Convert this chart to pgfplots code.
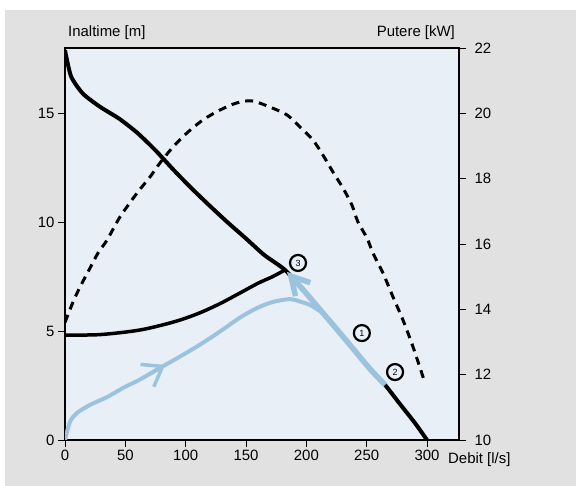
\documentclass[border=0pt]{standalone}
\usepackage{fontspec}
\setmainfont{Liberation Sans}
\usepackage{pgfplots}
\pgfplotsset{compat=1.18}
\usetikzlibrary{arrows.meta}
\definecolor{bggray}{RGB}{225,225,225}
\definecolor{plotbg}{RGB}{233,239,247}
\definecolor{flowblue}{RGB}{155,195,222}

\pgfplotsset{
  base/.style={
    at={(65bp,46bp)}, anchor=south west,
    scale only axis, width=394bp, height=392bp,
    xmin=0, xmax=326.5,
    tick align=outside,
    major tick length=7bp,
    every tick/.style={black, line width=0.9bp},
    axis line style={line width=2.5bp},
    clip mode=individual,
    /pgf/number format/assume math mode=true,
    tick label style={font=\fontsize{15}{18}\selectfont},
  }
}

\begin{document}
\begin{tikzpicture}[font=\fontsize{15}{18}\selectfont]
\useasboundingbox (0,0) rectangle (576bp,486bp);
\fill[white] (0,0) rectangle (576bp,486bp);
\fill[bggray] (5bp,0) rectangle (576bp,476bp);

% head axis (left)
\begin{axis}[base, axis background/.style={fill=plotbg},
  ymin=0, ymax=18, ytick={0,5,10,15},
  xtick={0,50,...,300}, xtick pos=bottom, ytick pos=left]

% pump curve H(Q)
\addplot[black, line width=4bp, smooth, tension=0.4, line join=round] coordinates {
 (0,17.9) (5,16.7) (14.9,15.9) (29,15.3) (45,14.75) (60,14.1)
 (75,13.3) (90,12.4) (105,11.55) (120,10.75) (135,9.98)
 (150,9.25) (165,8.5) (182.3,7.81) (198.9,6.80) (213.8,5.83)
 (227.9,4.91) (240.3,4.09) (252.8,3.26) (265.2,2.53) (277.6,1.65)
 (290,0.78) (300,0)
};
% system curve
\addplot[black, line width=3.5bp, smooth] coordinates {
 (0,4.82) (29,4.84) (62,5.05) (90,5.42) (110,5.8) (128,6.25)
 (145,6.75) (160,7.2) (172,7.5) (182.3,7.81)
};
% start-up path
\addplot[flowblue, line width=4bp, smooth] coordinates {
 (0,0) (4.1,0.83) (9.9,1.24) (20.7,1.61) (34.8,1.97) (48.1,2.39)
 (62.2,2.78) (78.7,3.31) (95.3,3.83) (111.9,4.38) (128.4,4.98)
 (145,5.62) (159.1,6.06) (172.4,6.34) (186.5,6.47) (194.7,6.36)
 (203,6.2) (213.8,5.83)
};
\addplot[flowblue, line width=3.5bp, -{Straight Barb[length=18bp,width=26bp]}]
 coordinates {(70,3.02) (83,3.45)};
% return path along pump curve
\addplot[flowblue, line width=5.5bp, smooth,
  -{Straight Barb[length=18bp,width=20bp]}] coordinates {
 (265.2,2.53) (252.8,3.26) (240.3,4.09) (227.9,4.91) (213.8,5.83)
 (198.9,6.80) (184,7.72)
};
% operating points
\addplot[only marks, mark=o, mark size=8bp,
  mark options={line width=2.2bp, black},
  nodes near coords, point meta=explicit symbolic,
  every node near coord/.style={anchor=center, inner sep=0pt,
    font=\fontsize{9}{10}\selectfont}]
 coordinates {(193.1,8.13)[3] (246,4.91)[1] (273.5,3.12)[2]};

\node[anchor=base west, inner sep=0pt, yshift=11bp] at (rel axis cs:0.0076,1) {Inaltime [m]};
\node[anchor=base west, inner sep=0pt, yshift=-23bp] at (rel axis cs:0.972,0) {Debit [l/s]};
\end{axis}

% power axis (right)
\begin{axis}[base, ymin=10, ymax=22, ytick={10,12,...,22},
  axis x line=none, axis y line*=right, ytick pos=right,
  yticklabel style={xshift=5bp}]
\addplot[black, line width=3bp, dash pattern=on 8bp off 6bp, smooth] coordinates {
 (0,13.6) (6.6,14.22) (12.4,14.68) (20.7,15.26) (27.3,15.72) (34.8,16.12)
 (45.6,16.83) (59.7,17.56) (70.4,18.05) (78.7,18.48) (89.5,18.97)
 (101.1,19.40) (114.4,19.80) (128.4,20.10) (142.5,20.32) (155,20.38)
 (169.9,20.19) (184,19.95) (194.7,19.58) (205.5,19.18) (213.8,18.72)
 (222.1,18.20) (230.4,17.71) (237.8,17.19) (242.8,16.67) (250.3,16.18)
 (255.2,15.72) (263.5,15.11) (271.8,14.38) (280.1,13.67) (288.4,12.85)
 (297.5,11.84)
};
\node[anchor=base east, inner sep=0pt, yshift=11bp] at (rel axis cs:0.99,1) {Putere [kW]};
\end{axis}
\end{tikzpicture}
\end{document}
